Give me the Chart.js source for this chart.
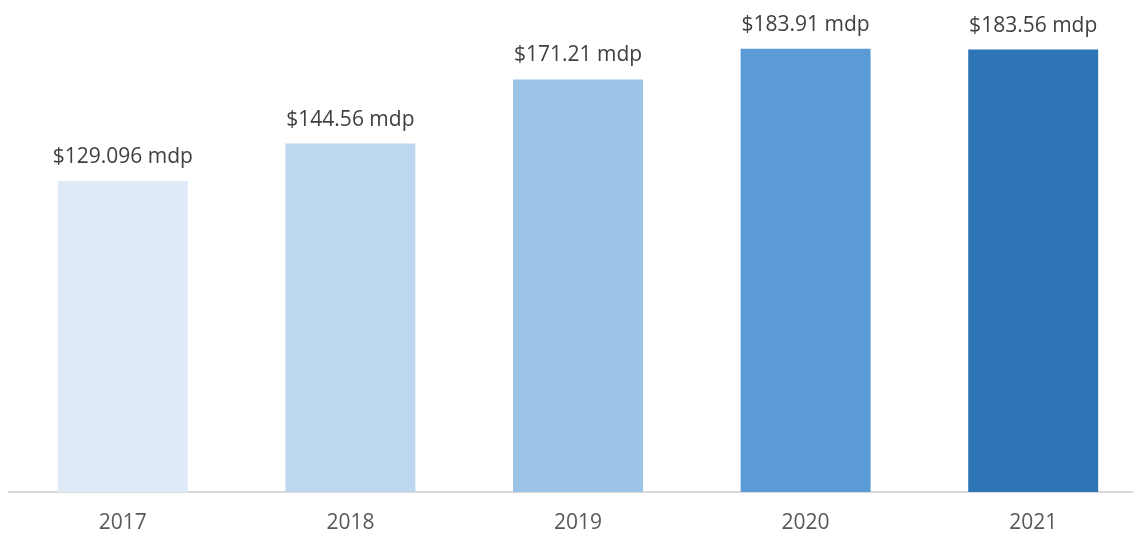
<!DOCTYPE html>
<html>
<head>
<meta charset="utf-8">
<title>Presupuesto anual</title>
<script src="https://cdn.jsdelivr.net/npm/chart.js@4.4.1/dist/chart.umd.min.js"></script>
<style>
  html, body { margin: 0; padding: 0; background: #ffffff; overflow: hidden; }
  #wrap { position: relative; width: 1148px; height: 535px; }
</style>
</head>
<body>
<div id="wrap"><canvas id="budgetChart"></canvas></div>
<script>
  // Data
  const years = ['2017', '2018', '2019', '2020', '2021'];
  const amounts = [129.096, 144.56, 171.21, 183.91, 183.56];
  const amountLabels = ['$129.096 mdp', '$144.56 mdp', '$171.21 mdp', '$183.91 mdp', '$183.56 mdp'];
  const barColors = ['#DEEAF6', '#BDD7EE', '#9DC3E6', '#5B9BD5', '#2E75B6'];

  const FONT = '"Open Sans", "DejaVu Sans", sans-serif';

  // draws the value text above each bar
  const valueLabels = {
    id: 'valueLabels',
    afterDatasetsDraw(chart) {
      const ctx = chart.ctx;
      const meta = chart.getDatasetMeta(0);
      ctx.save();
      ctx.font = '21px ' + FONT;
      ctx.fillStyle = '#404040';
      ctx.textAlign = 'center';
      ctx.textBaseline = 'middle';
      meta.data.forEach((bar, i) => {
        ctx.fillText(amountLabels[i], bar.x, bar.y - 24);
      });
      ctx.restore();
    }
  };

  new Chart(document.getElementById('budgetChart'), {
    type: 'bar',
    data: {
      labels: years,
      datasets: [{
        data: amounts,
        backgroundColor: barColors,
        borderWidth: 0,
        barPercentage: 0.571,
        categoryPercentage: 1
      }]
    },
    options: {
      responsive: true,
      maintainAspectRatio: false,
      animation: false,
      layout: { padding: { top: 10, left: 9, right: 1, bottom: -20 } },
      plugins: {
        legend: { display: false },
        tooltip: { enabled: false }
      },
      scales: {
        x: {
          grid: { display: false, drawTicks: false },
          border: { display: true, color: '#D9D9D9', width: 2 },
          ticks: {
            color: '#595959',
            padding: 21,
            font: { family: FONT, size: 21, lineHeight: 1.0 }
          }
        },
        y: {
          display: false,
          min: 0,
          max: 200
        }
      }
    },
    plugins: [valueLabels]
  });
</script>
</body>
</html>
